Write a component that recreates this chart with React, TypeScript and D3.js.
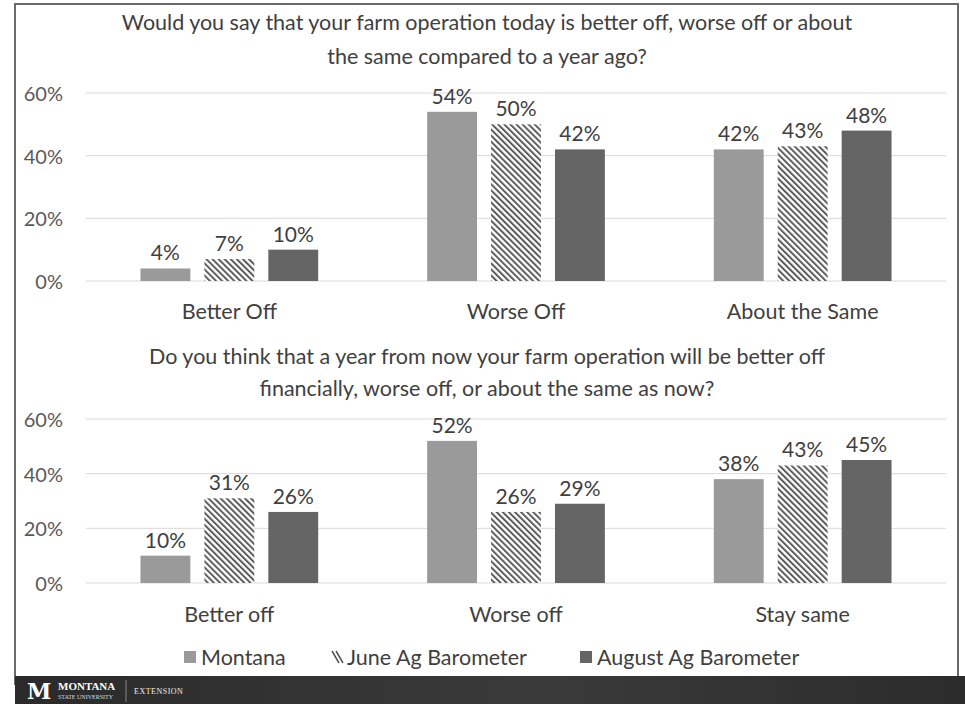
import React from 'react';
import * as d3 from 'd3';

const SERIES = ['Montana', 'June Ag Barometer', 'August Ag Barometer'];

const TOP_TITLE = [
  'Would you say that your farm operation today is better off, worse off or about',
  'the same compared to a year ago?',
];
const TOP_CATEGORIES = ['Better Off', 'Worse Off', 'About the Same'];
const TOP_MONTANA = [4, 54, 42];
const TOP_JUNE = [7, 50, 43];
const TOP_AUGUST = [10, 42, 48];

const BOTTOM_TITLE = [
  'Do you think that a year from now your farm operation will be better off',
  'financially, worse off, or about the same as now?',
];
const BOTTOM_CATEGORIES = ['Better off', 'Worse off', 'Stay same'];
const BOTTOM_MONTANA = [10, 52, 38];
const BOTTOM_JUNE = [31, 26, 43];
const BOTTOM_AUGUST = [26, 29, 45];

const Y_TICKS = [0, 20, 40, 60];

const W = 965;
const H = 704;
const FONT = 'Lato, "Open Sans", sans-serif';
const TEXT = '#404040';
const FILLS = ['#9a9a9a', 'url(#hatch)', '#656565'];

interface PanelProps {
  title: string[];
  titleY: number[];
  categories: string[];
  values: number[][];
  yTop: number;
  yBottom: number;
  catLabelY: number;
}

function Panel({ title, titleY, categories, values, yTop, yBottom, catLabelY }: PanelProps) {
  const x0 = d3.scaleBand<string>().domain(categories).range([86, 946]).paddingInner(0.38).paddingOuter(0.19);
  const x1 = d3.scaleBand<string>().domain(SERIES).range([0, x0.bandwidth()]).paddingInner(0.22);
  const y = d3.scaleLinear().domain([0, 60]).range([yBottom, yTop]);

  return (
    <g>
      {title.map((t, i) => (
        <text key={i} x={487} y={titleY[i]} textAnchor="middle" dominantBaseline="central"
          fontSize={21.5} fill={TEXT} fontFamily={FONT}>{t}</text>
      ))}
      {Y_TICKS.map((t) => (
        <g key={t}>
          <line x1={86} x2={946} y1={y(t)} y2={y(t)} stroke="#d9d9d9" strokeWidth={1} />
          <text x={63} y={y(t)} textAnchor="end" dominantBaseline="central" fontSize={20}
            fill="#595959" fontFamily={FONT}>{t}%</text>
        </g>
      ))}
      {categories.map((c, ci) => (
        <g key={c} transform={`translate(${x0(c)},0)`}>
          {SERIES.map((s, si) => {
            const v = values[si][ci];
            const bx = x1(s)!;
            return (
              <g key={s}>
                <rect x={bx} y={y(v)} width={x1.bandwidth()} height={yBottom - y(v)} fill={FILLS[si]} />
                <text x={bx + x1.bandwidth() / 2} y={y(v) - 8} textAnchor="middle" fontSize={21}
                  fill={TEXT} fontFamily={FONT}>{v}%</text>
              </g>
            );
          })}
          <text x={x0.bandwidth() / 2} y={catLabelY} textAnchor="middle" dominantBaseline="central"
            fontSize={21.5} fill={TEXT} fontFamily={FONT}>{c}</text>
        </g>
      ))}
    </g>
  );
}

export default function App() {
  const legendX = [184, 332, 580];
  return (
    <svg width={W} height={H} style={{ position: 'absolute', left: 0, top: 0 }}>
      <defs>
        <pattern id="hatch" patternUnits="userSpaceOnUse" width={4.3} height={4.3} patternTransform="rotate(-45)">
          <rect width={4.3} height={4.3} fill="#fff" />
          <line x1={1} y1={0} x2={1} y2={4.3} stroke="#555" strokeWidth={1.9} />
        </pattern>
        <linearGradient id="band" x1="0" x2="1" y1="0" y2="0">
          <stop offset="0" stopColor="#2a2a2a" />
          <stop offset="0.55" stopColor="#3a3a3a" />
          <stop offset="1" stopColor="#2c2c2c" />
        </linearGradient>
      </defs>
      <rect width={W} height={H} fill="#fff" />
      <rect x={15} y={4} width={943} height={680} fill="none" stroke="#6a6a6a" strokeWidth={2} />

      <Panel title={TOP_TITLE} titleY={[22, 56]} categories={TOP_CATEGORIES}
        values={[TOP_MONTANA, TOP_JUNE, TOP_AUGUST]} yTop={93} yBottom={281} catLabelY={311} />
      <Panel title={BOTTOM_TITLE} titleY={[356, 388]} categories={BOTTOM_CATEGORIES}
        values={[BOTTOM_MONTANA, BOTTOM_JUNE, BOTTOM_AUGUST]} yTop={419} yBottom={583} catLabelY={614} />

      {/* legend */}
      {SERIES.map((s, i) => (
        <g key={s} transform={`translate(${legendX[i]},657)`}>
          {i === 1 ? (
            <path d="M0,-6 L7,6 M4,-6 L11,6" stroke="#555" strokeWidth={1.5} fill="none" />
          ) : (
            <rect x={0} y={-6} width={12} height={12} fill={FILLS[i]} />
          )}
          <text x={i === 1 ? 15 : 17} y={0} dominantBaseline="central" fontSize={21.5} fill={TEXT}
            fontFamily={FONT}>{s}</text>
        </g>
      ))}

      {/* footer band */}
      <rect x={15} y={676} width={W - 15} height={28} fill="url(#band)" />
      <text x={27} y={699} fontSize={22} fontWeight="bold" fill="#fff" fontFamily="'DejaVu Serif', serif">M</text>
      <text x={58} y={690} fontSize={11} fill="#fff" fontFamily="'Liberation Serif', serif" fontWeight="bold">MONTANA</text>
      <text x={58} y={699} fontSize={6} fill="#ddd" fontFamily="'Liberation Serif', serif">STATE UNIVERSITY</text>
      <line x1={126} x2={126} y1={680} y2={702} stroke="#888" strokeWidth={1} />
      <text x={134} y={694} fontSize={8} fill="#eee" fontFamily="'Liberation Serif', serif" letterSpacing={0.5}>EXTENSION</text>
    </svg>
  );
}
